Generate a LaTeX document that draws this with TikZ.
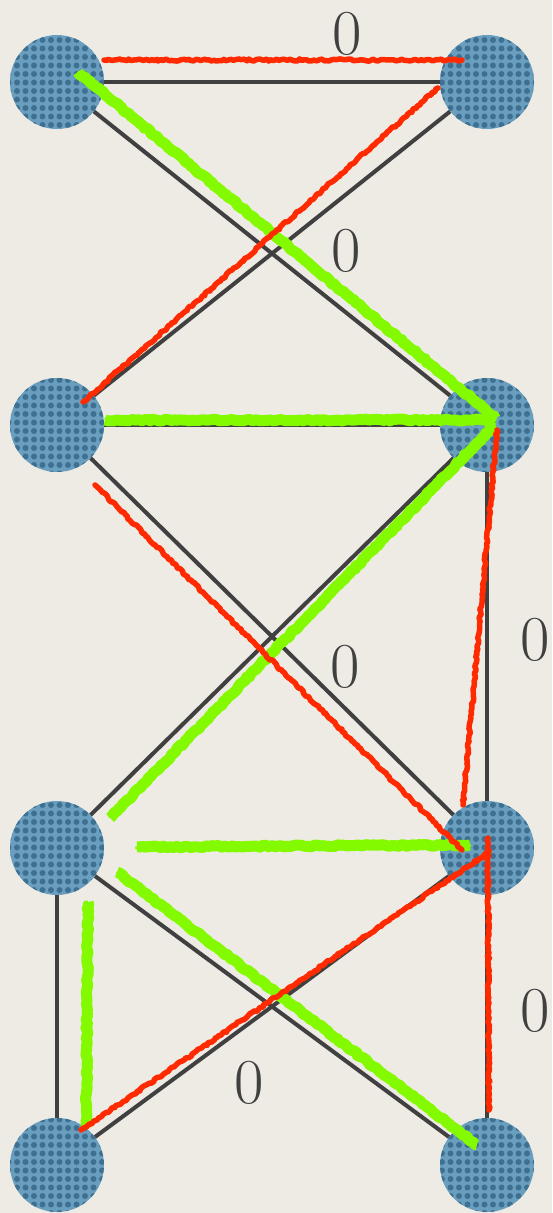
\documentclass[tikz,border=0pt]{standalone}
\usetikzlibrary{patterns.meta,decorations.pathmorphing}
\definecolor{bg}{HTML}{EEEBE5}
\definecolor{nodeblue}{HTML}{6A9EBE}
\definecolor{dotblue}{HTML}{3E7091}
\definecolor{edgegray}{HTML}{404040}
\definecolor{hred}{HTML}{FF2A00}
\definecolor{hgreen}{HTML}{84FA00}
\tikzset{
  vertex/.style={circle, fill=nodeblue, minimum size=94pt, inner sep=0pt,
    postaction={pattern={Dots[distance=8.5pt,radius=3pt]}, pattern color=dotblue}},
  edge/.style={draw=edgegray, line width=4pt},
  weight/.style={text=edgegray, font=\fontsize{64}{64}\selectfont, inner sep=0pt},
  redstroke/.style={draw=hred, line width=5.5pt, line cap=round, line join=round, decorate,
    decoration={random steps, segment length=2.5pt, amplitude=1.1pt}},
  greenstroke/.style={draw=hgreen, line width=11pt, line join=round, decorate,
    decoration={random steps, segment length=3pt, amplitude=1pt}},
  greenthin/.style={draw=hgreen, line width=3pt, line join=round, decorate,
    decoration={random steps, segment length=2pt, amplitude=3.5pt}},
}
\begin{document}
\begin{tikzpicture}[x=1pt,y=-1pt]
\useasboundingbox (0,0) rectangle (552,1213);
\fill[bg] (0,0) rectangle (552,1213);

% vertices
\node[vertex] (a1) at (57,82) {};
\node[vertex] (b1) at (487,82) {};
\node[vertex] (a2) at (57,425) {};
\node[vertex] (b2) at (487,425) {};
\node[vertex] (a3) at (57,848) {};
\node[vertex] (b3) at (487,848) {};
\node[vertex] (a4) at (57,1165) {};
\node[vertex] (b4) at (487,1165) {};

% edges
\draw[edge] (a1) -- (b1);
\draw[edge] (a1) -- (b2);
\draw[edge] (b1) -- (a2);
\draw[edge] (a2) -- (b2);
\draw[edge] (a2) -- (b3);
\draw[edge] (b2) -- (a3);
\draw[edge] (b2) -- (b3);
\draw[edge] (a3) -- (a4);
\draw[edge] (a3) -- (b4);
\draw[edge] (b3) -- (a4);
\draw[edge] (b3) -- (b4);

% weights
\node[weight] (w1) at (347,34) {0};
\node[weight] (w2) at (346,251) {0};
\node[weight] (w3) at (345,667) {0};
\node[weight] (w4) at (535,640) {0};
\node[weight] (w5) at (535,1011) {0};
\node[weight] (w6) at (249,1083) {0};

% stroke end points
\coordinate (g1s) at (78,72);   \coordinate (g1e) at (495,418);
\coordinate (g2s) at (105,420); \coordinate (g2e) at (495,420);
\coordinate (g3s) at (495,425); \coordinate (g3e) at (110,818);
\coordinate (g4s) at (137,847); \coordinate (g4e) at (470,845);
\coordinate (g5s) at (117,872); \coordinate (g5e) at (477,1145);
\coordinate (g6s) at (88,902);  \coordinate (g6e) at (86,1127);

\coordinate (r1s) at (104,60);  \coordinate (r1e) at (462,60);
\coordinate (r2s) at (438,88);  \coordinate (r2e) at (83,402);
\coordinate (r3s) at (95,485);  \coordinate (r3e) at (462,850);
\coordinate (r4s) at (497,430); \coordinate (r4e) at (463,805);
\coordinate (r5s) at (81,1130); \coordinate (r5e) at (489,852);
\coordinate (r6s) at (488,838); \coordinate (r6e) at (489,1110);

% green strokes
\foreach \s/\e in {g1s/g1e, g2s/g2e, g3s/g3e, g4s/g4e, g5s/g5e, g6s/g6e} {
  \draw[greenstroke] (\s) -- (\e);
  \draw[greenthin] (\s) -- (\e);
}

% red strokes
\foreach \s/\e in {r1s/r1e, r2s/r2e, r3s/r3e, r4s/r4e, r5s/r5e, r6s/r6e} {
  \draw[redstroke] (\s) -- (\e);
}
\end{tikzpicture}
\end{document}
